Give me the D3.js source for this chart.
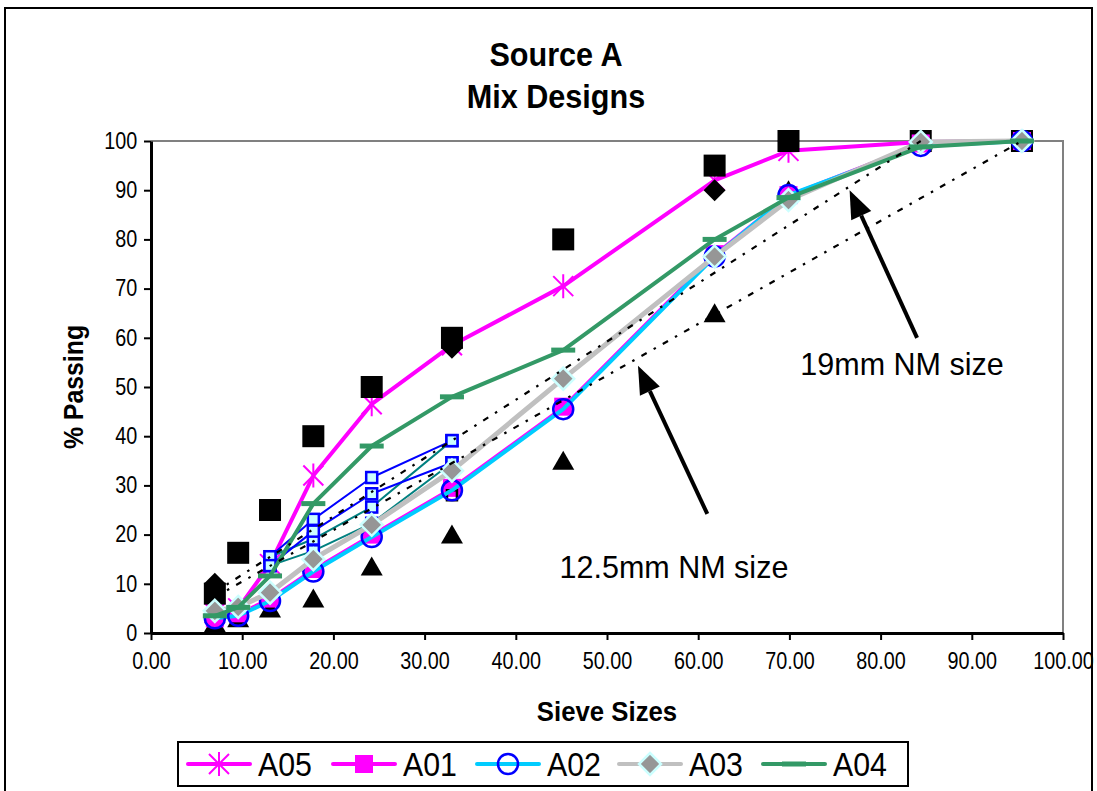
<!DOCTYPE html>
<html>
<head>
<meta charset="utf-8">
<script src="https://cdn.jsdelivr.net/npm/d3@7"></script>
<style>
  body { margin: 0; background: #fff; }
  svg { display: block; font-family: "Liberation Sans", Arial, sans-serif; }
</style>
</head>
<body>
<svg id="chart" width="1097" height="791"></svg>
<script>
// sieve sizes (x positions) and % passing for each mix
var sieves = [7.0, 9.56, 13.05, 17.8, 24.2, 33.0, 45.2, 61.8, 69.9, 84.4, 95.5];
var a05 = [4, 5, 14, 32, 46.5, 58.5, 70.5, 92, 98, 99.8, 100];
var a01 = [3, 4, 7, 13, 20, 29.5, 46, 77, 89, 99.5, 100];
var a02 = [3, 3.5, 6.5, 12.5, 19.5, 29, 45.5, 76.5, 89, 99, 100];
var a03 = [4.5, 5.3, 8.2, 15, 22, 33, 51.7, 76.5, 88, 99.8, 100];
var a04 = [3.5, 5.2, 11.6, 26.3, 38, 48, 57.5, 80, 88.5, 98.8, 100];

// extra marker series (no legend entry)
var blackSquares = [8, 16.3, 25, 40, 50, 60, 80, 95, 100, 100, 100];
var blackTriangles = [2, 3, 5, 7, 13.5, 20, 35, 65, 90, 100, 100];
var diamondX = [7.0, 33.0, 61.8, 69.9];
var diamondY = [10, 58, 90, 100];
var smallSqX = [33.0];
var smallSqY = [28];

// restricted zone
var rzSieves = [13.05, 17.8, 24.2, 33.0];
var rz125Upper = [15.5, 23.1, 31.6, 39.1];
var rz19Upper = [13.7, 20.7, 28.3, 34.6];
var rz125Lower = [15.5, 19.1, 25.6, 39.1];
var rz19Lower = [13.7, 16.7, 22.3, 34.6];

// maximum density lines (end points)
var md125X = [7.0, 84.4], md125Y = [8.3, 100];
var md19X = [7.0, 95.5], md19Y = [7.3, 100];

var xTicks = [0, 10, 20, 30, 40, 50, 60, 70, 80, 90, 100];
var yTicks = [0, 10, 20, 30, 40, 50, 60, 70, 80, 90, 100];

// annotations in data units: [tailX, tailY, tipX, tipY]
var arrows = [[84.0, 60.0, 76.6, 90.0], [61.0, 24.2, 53.4, 54.3]];
var notes = [{t: "19mm NM size", x: 71.2, y: 52.4}, {t: "12.5mm NM size", x: 44.8, y: 11.2}];

var svg = d3.select("#chart");
var L = 151, R = 1063, T = 141, B = 633;
var x = d3.scaleLinear().domain([0, 100]).range([L, R]);
var y = d3.scaleLinear().domain([0, 100]).range([B, T]);

// outer frame
svg.append("rect").attr("x", 5).attr("y", 8).attr("width", 1087).attr("height", 800)
  .attr("fill", "none").attr("stroke", "#000").attr("stroke-width", 2);

// title (slightly condensed like the original)
svg.append("text").attr("transform", "translate(556,66) scale(0.9,1)").attr("text-anchor", "middle")
  .attr("font-size", 34).attr("font-weight", "bold").text("Source A");
svg.append("text").attr("transform", "translate(556,108) scale(0.9,1)").attr("text-anchor", "middle")
  .attr("font-size", 34).attr("font-weight", "bold").text("Mix Designs");

// plot area border (gray top/right)
svg.append("path").attr("d", "M" + L + "," + T + "H" + R + "V" + B)
  .attr("fill", "none").attr("stroke", "#808080").attr("stroke-width", 2);

// axes
var gx = svg.append("g").attr("transform", "translate(0," + B + ")")
  .call(d3.axisBottom(x).tickValues(xTicks).tickSize(7).tickSizeOuter(0).tickFormat(d3.format(".2f")));
var gy = svg.append("g").attr("transform", "translate(" + L + ",0)")
  .call(d3.axisLeft(y).tickValues(yTicks).tickSize(7).tickSizeOuter(0));
[gx, gy].forEach(function(g) {
  g.select(".domain").attr("stroke", "#000").attr("stroke-width", 3);
  g.selectAll(".tick line").attr("stroke", "#000").attr("stroke-width", 2);
  g.selectAll(".tick text").attr("font-size", 23).attr("fill", "#000")
    .attr("font-family", "Liberation Sans, Arial, sans-serif")
    .attr("transform", "scale(0.86,1)");
});
gx.selectAll(".tick text").attr("y", 14).attr("dy", "0.95em");
gy.selectAll(".tick text").attr("x", -16);

svg.append("text").attr("transform", "translate(607,721) scale(0.92,1)").attr("text-anchor", "middle")
  .attr("font-size", 28).attr("font-weight", "bold").text("Sieve Sizes");
svg.append("text").attr("transform", "translate(83,387) rotate(-90) scale(0.92,1)").attr("text-anchor", "middle")
  .attr("font-size", 27).attr("font-weight", "bold").text("% Passing");

function pts(xs, ys) { return xs.map(function(v, i) { return [v, ys[i]]; }); }
var line = d3.line().x(function(d) { return x(d[0]); }).y(function(d) { return y(d[1]); });

function drawLine(data, color, w, dash) {
  svg.append("path").attr("d", line(data)).attr("fill", "none")
    .attr("stroke", color).attr("stroke-width", w)
    .attr("stroke-dasharray", dash || null).attr("stroke-linejoin", "round");
}

// marker shapes
var markers = {
  star: function(g) {
    g.append("path").attr("d", "M0,-12V12M-10,-10L10,10M-10,10L10,-10")
      .attr("stroke", "#ff00ff").attr("stroke-width", 2).attr("fill", "none");
  },
  msquare: function(g) {
    g.append("rect").attr("x", -9).attr("y", -9).attr("width", 18).attr("height", 18).attr("fill", "#ff00ff");
  },
  circle: function(g) {
    g.append("circle").attr("r", 10).attr("fill", "none").attr("stroke", "#0000ff").attr("stroke-width", 2.5);
  },
  diamond: function(g) {
    g.append("path").attr("d", "M0,-11L11,0L0,11L-11,0Z").attr("fill", "#969696")
      .attr("stroke", "#ccffff").attr("stroke-width", 2.5);
  },
  dash: function(g) {
    g.append("rect").attr("x", -12).attr("y", -2.5).attr("width", 24).attr("height", 5).attr("fill", "#339966");
  },
  bsquare: function(g) {
    g.append("rect").attr("x", -11).attr("y", -11).attr("width", 22).attr("height", 22).attr("fill", "#000");
  },
  btri: function(g) {
    g.append("path").attr("d", "M0,-10L11,9H-11Z").attr("fill", "#000");
  },
  bdiamond: function(g) {
    g.append("path").attr("d", "M0,-11L11,0L0,11L-11,0Z").attr("fill", "#000");
  },
  smallsq: function(g) {
    g.append("rect").attr("x", -5).attr("y", -5).attr("width", 10).attr("height", 10)
      .attr("fill", "none").attr("stroke", "#000").attr("stroke-width", 2.5);
  },
  rzsq: function(g) {
    g.append("rect").attr("x", -5.5).attr("y", -5.5).attr("width", 11).attr("height", 11)
      .attr("fill", "#ccffff").attr("stroke", "#0000ff").attr("stroke-width", 2.5);
  }
};

function drawMarkers(data, kind) {
  svg.append("g").selectAll("g").data(data).enter().append("g")
    .attr("transform", function(d) { return "translate(" + x(d[0]) + "," + y(d[1]) + ")"; })
    .each(function() { markers[kind](d3.select(this)); });
}

// A05
drawLine(pts(sieves, a05), "#ff00ff", 4);
drawMarkers(pts(sieves, a05), "star");

// control points
drawMarkers(pts(sieves, blackTriangles), "btri");
drawMarkers(pts(sieves, blackSquares), "bsquare");
drawMarkers(pts(diamondX, diamondY), "bdiamond");

// restricted zone
drawLine(pts(rzSieves, rz125Lower), "#008080", 2);
drawLine(pts(rzSieves, rz19Lower), "#008080", 2);
drawLine(pts(rzSieves, rz125Upper), "#0000ff", 2);
drawLine(pts(rzSieves, rz19Upper), "#0000ff", 2);
[rz125Lower, rz19Lower, rz125Upper, rz19Upper].forEach(function(s) {
  drawMarkers(pts(rzSieves, s), "rzsq");
});

// mixes
drawLine(pts(sieves, a01), "#ff00ff", 2.5);
drawMarkers(pts(sieves, a01), "msquare");
drawMarkers(pts(smallSqX, smallSqY), "smallsq");
drawLine(pts(sieves, a02), "#00ccff", 4);
drawMarkers(pts(sieves, a02), "circle");
drawLine(pts(sieves, a03), "#c0c0c0", 5);
drawMarkers(pts(sieves, a03), "diamond");
drawLine(pts(sieves, a04), "#339966", 4);
drawMarkers(pts(sieves, a04), "dash");

// max density lines
drawLine(pts(md125X, md125Y), "#000", 2.2, "6,8,2.5,8");
drawLine(pts(md19X, md19Y), "#000", 2.2, "6,8,2.5,8");

// arrows
arrows.forEach(function(a) {
  var x0 = x(a[0]), y0 = y(a[1]), x1 = x(a[2]), y1 = y(a[3]);
  var ang = Math.atan2(y1 - y0, x1 - x0);
  var len = 28, hw = 11;
  var bx = x1 - len * Math.cos(ang), by = y1 - len * Math.sin(ang);
  svg.append("line").attr("x1", x0).attr("y1", y0).attr("x2", bx).attr("y2", by)
    .attr("stroke", "#000").attr("stroke-width", 4);
  var px = -Math.sin(ang) * hw, py = Math.cos(ang) * hw;
  svg.append("path").attr("d", "M" + x1 + "," + y1 + "L" + (bx + px) + "," + (by + py) + "L" + (bx - px) + "," + (by - py) + "Z")
    .attr("fill", "#000");
});
notes.forEach(function(n) {
  svg.append("text").attr("x", x(n.x)).attr("y", y(n.y)).attr("font-size", 30.5).text(n.t);
});

// legend
var legend = [
  {name: "A05", color: "#ff00ff", w: 4, m: "star", lx: 188},
  {name: "A01", color: "#ff00ff", w: 4, m: "msquare", lx: 333},
  {name: "A02", color: "#00ccff", w: 4, m: "circle", lx: 477},
  {name: "A03", color: "#c0c0c0", w: 4, m: "diamond", lx: 619},
  {name: "A04", color: "#339966", w: 4, m: "dash", lx: 763}
];
svg.append("rect").attr("x", 178).attr("y", 742).attr("width", 730).attr("height", 44)
  .attr("fill", "#fff").attr("stroke", "#000").attr("stroke-width", 2);
legend.forEach(function(d) {
  var g = svg.append("g").attr("transform", "translate(" + d.lx + ",764)");
  g.append("line").attr("x1", 0).attr("x2", 62).attr("stroke", d.color).attr("stroke-width", d.w)
    .attr("stroke-linecap", "round");
  var mg = g.append("g").attr("transform", "translate(31,0)");
  markers[d.m](mg);
  g.append("text").attr("transform", "translate(70,12) scale(0.92,1)").attr("font-size", 33).text(d.name);
});
</script>
</body>
</html>
